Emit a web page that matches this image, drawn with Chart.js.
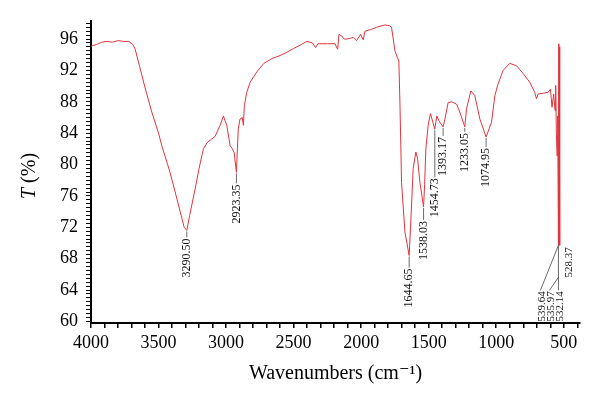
<!DOCTYPE html>
<html lang="en">
<head>
  <meta charset="UTF-8" />
  <title>FTIR spectrum</title>
  <script src="https://cdn.jsdelivr.net/npm/chart.js"></script>
  <style>
    body { margin: 0; background: #fff; }
    canvas { display: block; }
  </style>
</head>
<body>
  <canvas id="irChart" width="600" height="407"></canvas>

  <script>
    // spectrum (wavenumber in cm-1, transmittance in %)
    const wavenumbers = [
      4000, 3960, 3920, 3880, 3840, 3800, 3760, 3720, 3690, 3673,
      3640, 3600, 3550, 3500, 3476, 3420, 3377, 3340, 3310, 3290.5,
      3270, 3229, 3200, 3168, 3140, 3118, 3081, 3044, 3020, 2995,
      2970, 2953, 2940, 2923.35, 2910, 2897, 2880, 2872, 2865, 2847,
      2822, 2773, 2720, 2662, 2600, 2551, 2500, 2453, 2403, 2380,
      2360, 2337, 2320, 2250, 2194, 2174, 2164, 2144, 2125, 2107,
      2080, 2059, 2034, 2004, 1985, 1972, 1930, 1886, 1824, 1790,
      1775, 1750, 1733, 1721, 1713, 1701, 1676, 1644.65, 1635, 1615,
      1595, 1582, 1565, 1538.03, 1530, 1521, 1504, 1487, 1454.73, 1440,
      1425, 1393.17, 1380, 1356, 1331, 1294, 1270, 1233.05, 1220, 1188,
      1159, 1121, 1074.95, 1035, 1010, 986, 949, 900, 850, 801,
      752, 715, 702, 690, 650, 616, 599, 587, 575, 565,
      560, 555, 550, 545, 539.64, 537.5, 535.97, 534, 532.14, 530,
      528.37
    ];
    const transmittance = [
      95.1, 95.3, 95.6, 95.7, 95.6, 95.8, 95.7, 95.7, 95.3, 94.7,
      92.5, 89.8, 86.7, 84.0, 82.4, 79.3, 76.5, 74.0, 72.0, 71.6,
      73.5, 76.9, 79.5, 82.0, 82.8, 83.1, 83.6, 85.0, 86.2, 85.0,
      82.4, 82.0, 81.5, 79.0, 84.5, 85.8, 86.0, 85.0, 87.5, 89.2,
      90.5, 91.8, 92.9, 93.5, 93.9, 94.3, 94.8, 95.2, 95.7, 95.6,
      95.5, 94.9, 95.4, 95.4, 95.4, 94.7, 96.6, 96.4, 96.0, 96.0,
      96.1, 96.2, 95.8, 96.6, 95.9, 97.0, 97.2, 97.5, 97.8, 97.7,
      97.5, 94.5, 93.7, 93.2, 87.9, 77.7, 71.4, 68.4, 71.8, 79.5,
      81.6, 80.7, 77.7, 74.6, 77.5, 82.0, 85.0, 86.5, 84.5, 86.2,
      85.6, 84.8, 85.8, 87.9, 88.0, 87.7, 86.7, 84.8, 87.1, 89.4,
      88.8, 85.8, 83.5, 85.4, 88.8, 90.3, 92.0, 92.9, 92.6, 91.6,
      90.5, 89.2, 88.4, 89.0, 89.1, 89.2, 89.6, 87.3, 89.0, 86.9,
      90.1, 84.0, 81.1, 86.2, 69.7, 95.4, 69.8, 95.0, 69.7, 94.0,
      69.7
    ];

    // axis ticks
    const xTickStep = 100;
    const xLabelStep = 500;
    const yTickStep = 0.5;
    const yLabelStep = 4;

    // labelled bands
    const peakWaves = [3290.50, 2923.35, 1644.65, 1538.03, 1454.73, 1393.17, 1233.05, 1074.95];
    const peakT = [71.6, 79.0, 68.4, 74.6, 84.5, 84.8, 84.8, 83.5];
    const peakLabels = ['3290.50', '2923.35', '1644.65', '1538.03', '1454.73', '1393.17', '1233.05', '1074.95'];
    const clusterWaves = [539.64, 535.97, 532.14, 528.37];
    const clusterLabels = ['539.64', '535.97', '532.14', '528.37'];
    const clusterT = 69.7;

    const serif = "'Liberation Serif', 'DejaVu Serif', serif";

    // leader gap below each labelled trough (px)
    const peakGaps = [7, 11, 12, 13, 48, 9, 5, 10];

    const peakLabelPlugin = {
      id: 'peakLabels',
      afterDatasetsDraw(chart) {
        const ctx = chart.ctx;
        const xs = chart.scales.x;
        const ys = chart.scales.y;
        ctx.save();
        ctx.strokeStyle = '#444';
        ctx.lineWidth = 0.8;
        ctx.fillStyle = '#111';
        ctx.font = '12px ' + serif;
        ctx.textAlign = 'right';
        ctx.textBaseline = 'middle';

        peakWaves.forEach((w, i) => {
          const px = xs.getPixelForValue(w);
          const py = ys.getPixelForValue(peakT[i]);
          const gap = peakGaps[i];
          ctx.beginPath();
          ctx.moveTo(px, py + 1);
          ctx.lineTo(px, py + gap);
          ctx.stroke();
          ctx.save();
          ctx.translate(px, py + gap + 1);
          ctx.rotate(-Math.PI / 2);
          ctx.fillText(peakLabels[i], 0, 0);
          ctx.restore();
        });

        // crowded group near 530 cm-1
        const ax = xs.getPixelForValue(clusterWaves[0]);
        const ay = ys.getPixelForValue(clusterT);
        ctx.beginPath();
        ctx.moveTo(ax, ay); ctx.lineTo(ax - 18, ay + 45);
        ctx.moveTo(ax, ay + 32); ctx.lineTo(ax - 9, ay + 45);
        ctx.moveTo(ax, ay); ctx.lineTo(ax, ay + 45);
        ctx.stroke();
        ctx.font = '11px ' + serif;
        const offs = [[-16, 46], [-7, 46], [2, 46], [11, 2]];
        clusterLabels.forEach((lab, i) => {
          ctx.save();
          ctx.translate(ax + offs[i][0], ay + offs[i][1]);
          ctx.rotate(-Math.PI / 2);
          ctx.fillText(lab, 0, 0);
          ctx.restore();
        });
        ctx.restore();
      }
    };

    const yTitlePlugin = {
      id: 'yTitle',
      afterDraw(chart) {
        const ctx = chart.ctx;
        ctx.save();
        ctx.translate(30, 176);
        ctx.rotate(-Math.PI / 2);
        ctx.fillStyle = '#000';
        ctx.textBaseline = 'middle';
        ctx.textAlign = 'left';
        ctx.font = 'italic 20px ' + serif;
        const wT = ctx.measureText('T').width;
        ctx.font = '20px ' + serif;
        const wRest = ctx.measureText(' (%)').width;
        const start = -(wT + wRest) / 2;
        ctx.font = 'italic 20px ' + serif;
        ctx.fillText('T', start, 0);
        ctx.font = '20px ' + serif;
        ctx.fillText(' (%)', start + wT, 0);
        ctx.restore();
      }
    };

    function stepTicks(lo, hi, step) {
      const out = [];
      const n = Math.round((hi - lo) / step);
      for (let k = 0; k <= n; k++) out.push({ value: +(lo + k * step).toFixed(3) });
      return out;
    }

    new Chart(document.getElementById('irChart'), {
      type: 'line',
      data: {
        datasets: [{
          data: wavenumbers.map((w, i) => ({ x: w, y: transmittance[i] })),
          borderColor: 'rgb(226, 52, 60)',
          borderWidth: 1,
          pointRadius: 0,
          tension: 0,
          fill: false
        }]
      },
      options: {
        responsive: false,
        animation: false,
        layout: { padding: { top: 21, right: 20, bottom: 0, left: 0 } },
        plugins: { legend: { display: false }, tooltip: { enabled: false } },
        scales: {
          x: {
            type: 'linear',
            reverse: true,
            min: 380,
            max: 4000,
            afterBuildTicks: s => { s.ticks = stepTicks(400, 4000, xTickStep); },
            afterFit: s => { s.height = 84; },
            border: { color: '#000', width: 2 },
            grid: { drawOnChartArea: false, tickLength: 5, color: '#000', lineWidth: 1.5 },
            ticks: {
              autoSkip: false,
              maxRotation: 0,
              padding: 4,
              color: '#000',
              font: { family: serif, size: 18 },
              callback: v => (Math.round(v) % xLabelStep === 0 ? String(Math.round(v)) : '')
            },
            title: {
              display: true,
              text: 'Wavenumbers (cm⁻¹)',
              color: '#000',
              font: { family: serif, size: 20 },
              padding: { top: 4, bottom: 21 }
            }
          },
          y: {
            min: 59.8,
            max: 98.3,
            afterBuildTicks: s => { s.ticks = stepTicks(60, 98, yTickStep); },
            afterFit: s => { s.width = 91; },
            border: { color: '#000', width: 2 },
            grid: { drawOnChartArea: false, tickLength: 5, color: '#000', lineWidth: 1 },
            ticks: {
              autoSkip: false,
              padding: 8,
              color: '#000',
              font: { family: serif, size: 18 },
              callback: v => (Math.abs(v % yLabelStep) < 1e-6 ? String(Math.round(v)) : '')
            }
          }
        }
      },
      plugins: [peakLabelPlugin, yTitlePlugin]
    });
  </script>
</body>
</html>
